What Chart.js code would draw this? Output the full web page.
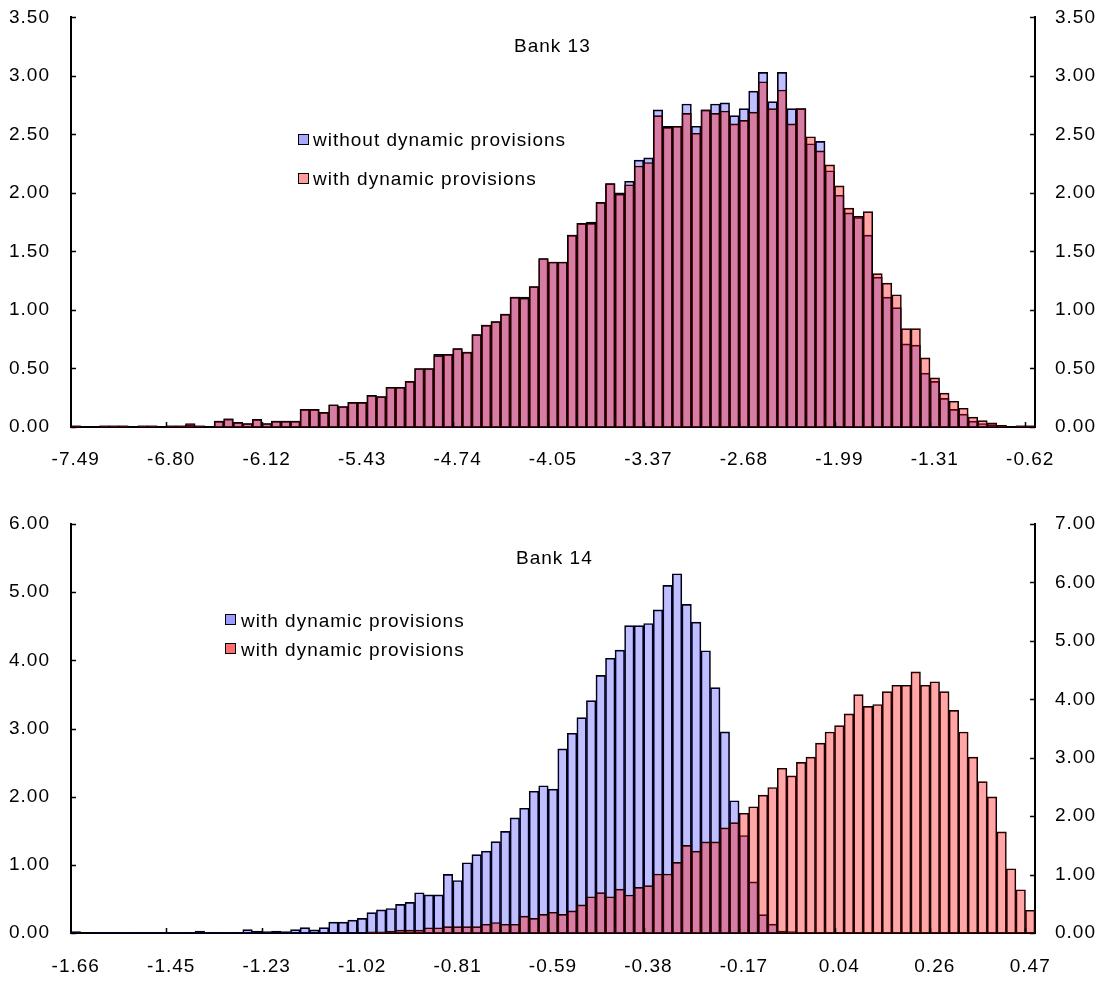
<!DOCTYPE html>
<html>
<head>
<meta charset="utf-8">
<script src="https://cdn.jsdelivr.net/npm/chart.js@4.4.1/dist/chart.umd.min.js"></script>
<style>
  html, body { margin: 0; padding: 0; background: #fff; }
  #wrap { position: relative; width: 1105px; height: 982px; overflow: hidden; font-family: "Liberation Sans", Arial, sans-serif; color: #000; }
  canvas { position: absolute; left: 0; }
  .txt { position: absolute; white-space: nowrap; line-height: 1; letter-spacing: 1px; }
  .sw { position: absolute; width: 9px; height: 9px; border: 1px solid #000; }
</style>
</head>
<body>
<div id="wrap">
  <canvas id="c13" width="1105" height="506" style="top:-15px"></canvas>
  <canvas id="c14" width="1105" height="491" style="top:491px"></canvas>

  <div class="txt" style="left:514px; top:36px; font-size:19px;">Bank 13</div>
  <div class="sw" style="left:298px; top:134px; background:#a8a8ff;"></div>
  <div class="txt" style="left:313px; top:130px; font-size:19px;">without dynamic provisions</div>
  <div class="sw" style="left:298px; top:173px; background:#ff9c9c;"></div>
  <div class="txt" style="left:313px; top:169px; font-size:19px;">with dynamic provisions</div>

  <div class="txt" style="left:516px; top:548px; font-size:19px;">Bank 14</div>
  <div class="sw" style="left:225px; top:614px; background:#9c9cff;"></div>
  <div class="txt" style="left:241px; top:611px; font-size:19px;">with dynamic provisions</div>
  <div class="sw" style="left:225px; top:643px; background:#ff6e6e;"></div>
  <div class="txt" style="left:241px; top:640px; font-size:19px;">with dynamic provisions</div>
</div>
<script>
// ---- Bank 13 ----
const bank13TickLabels = ['-7.49','-6.80','-6.12','-5.43','-4.74','-4.05','-3.37','-2.68','-1.99','-1.31','-0.62'];
const bank13Without = [
  0.01,0,0,0.01,0.01,0.01,0,0.01,0.01,0,
  0.01,0.01,0.02,0.01,0,0.05,0.07,0.04,0.03,0.065,
  0.03,0.05,0.05,0.05,0.15,0.15,0.125,0.19,0.175,0.21,
  0.21,0.27,0.26,0.34,0.34,0.39,0.50,0.50,0.62,0.62,
  0.67,0.64,0.79,0.87,0.90,0.965,1.11,1.11,1.20,1.44,
  1.41,1.41,1.64,1.74,1.75,1.92,2.08,2.00,2.10,2.28,
  2.30,2.71,2.57,2.57,2.76,2.57,2.71,2.76,2.77,2.66,
  2.72,2.87,3.03,2.78,3.03,2.72,2.72,2.42,2.44,2.19,
  1.98,1.83,1.79,1.64,1.28,1.11,1.02,0.71,0.70,0.46,
  0.39,0.245,0.15,0.11,0.05,0.03,0.02,0.015,0,0.01,
  0.01
];
const bank13With = [
  0.01,0,0,0.01,0.01,0.01,0,0.01,0.01,0,
  0.01,0.01,0.03,0.01,0,0.05,0.07,0.04,0.03,0.065,
  0.03,0.05,0.05,0.05,0.15,0.15,0.125,0.19,0.175,0.21,
  0.21,0.27,0.26,0.34,0.34,0.39,0.50,0.50,0.61,0.62,
  0.67,0.64,0.79,0.87,0.90,0.965,1.11,1.10,1.20,1.44,
  1.41,1.41,1.64,1.74,1.74,1.92,2.08,1.99,2.07,2.23,
  2.26,2.66,2.56,2.57,2.68,2.51,2.71,2.68,2.70,2.59,
  2.62,2.69,2.95,2.72,2.88,2.59,2.72,2.48,2.36,2.24,
  2.06,1.87,1.80,1.84,1.31,1.23,1.13,0.84,0.84,0.59,
  0.42,0.29,0.22,0.16,0.085,0.055,0.035,0.015,0,0.01,
  0.01
];

// ---- Bank 14 ----
const bank14TickLabels = ['-1.66','-1.45','-1.23','-1.02','-0.81','-0.59','-0.38','-0.17','0.04','0.26','0.47'];
const bank14Blue = [
  0.02,0,0.01,0.01,0.01,0.01,0.01,0.01,0.01,0.01,
  0.01,0.01,0.01,0.03,0.01,0.01,0.01,0.01,0.05,0.03,
  0.02,0.03,0.02,0.05,0.08,0.045,0.08,0.16,0.16,0.19,
  0.215,0.30,0.34,0.36,0.42,0.45,0.59,0.56,0.56,0.86,
  0.77,1.03,1.15,1.20,1.34,1.49,1.69,1.83,2.08,2.16,
  2.11,2.70,2.93,3.16,3.41,3.78,4.03,4.15,4.51,4.51,
  4.54,4.74,5.10,5.27,4.82,4.56,4.14,3.60,2.95,1.94,
  1.43,0.75,0.27,0.13,0.03,0.02,0,0,0,0,
  0,0,0,0,0,0,0,0,0,0,
  0,0,0,0,0,0,0,0,0,0,
  0
];
const bank14Red = [
  0,0,0,0,0,0,0,0,0,0,
  0,0,0,0,0,0,0,0,0,0,
  0,0,0,0,0,0,0,0,0,0,
  0,0.02,0.02,0.03,0.05,0.05,0.05,0.09,0.09,0.11,
  0.11,0.11,0.11,0.15,0.18,0.15,0.15,0.29,0.25,0.32,
  0.355,0.32,0.38,0.48,0.62,0.69,0.62,0.75,0.65,0.78,
  0.81,1.01,1.01,1.21,1.50,1.40,1.56,1.56,1.80,1.89,
  2.05,2.16,2.36,2.49,2.82,2.69,2.92,3.01,3.25,3.44,
  3.55,3.75,4.08,3.88,3.91,4.13,4.24,4.24,4.47,4.24,
  4.30,4.13,3.81,3.44,3.01,2.59,2.33,1.73,1.10,0.74,
  0.39
];

const BLUE = 'rgba(0,0,255,0.25)';
const RED = 'rgba(255,0,0,0.35)';

Chart.defaults.font.family = '"Liberation Sans", Arial, sans-serif';
Chart.defaults.font.size = 19;
Chart.defaults.color = '#000';

function categoryLabels(n, tickLabels) {
  const out = [];
  for (let i = 0; i < n; i++) out.push(i % 10 === 0 ? tickLabels[i / 10] : '');
  return out;
}

const innerTicks = {
  id: 'innerTicks',
  beforeDraw(chart) { try { chart.ctx.letterSpacing = '1px'; } catch (e) {} },
  afterDraw(chart) {
    const ctx = chart.ctx, a = chart.chartArea;
    ctx.save();
    ctx.strokeStyle = '#000';
    ctx.lineWidth = 1.5;
    ctx.beginPath();
    Object.values(chart.scales).forEach(s => {
      if (s.axis === 'y') {
        s.ticks.forEach(t => {
          const y = Math.round(s.getPixelForValue(t.value)) + 0.5;
          if (s.position === 'left') { ctx.moveTo(a.left, y); ctx.lineTo(a.left + 5, y); }
          else { ctx.moveTo(a.right - 5, y); ctx.lineTo(a.right, y); }
        });
      } else {
        const slot = s.getPixelForValue(1) - s.getPixelForValue(0);
        for (let k = 10; k <= 100; k += 10) {
          const x = Math.round(s.getPixelForValue(k) - slot / 2) + 0.5;
          ctx.moveTo(x, a.bottom); ctx.lineTo(x, a.bottom - 5);
        }
      }
    });
    ctx.stroke();
    ctx.restore();
  }
};

function yAxis(pos, max, step, width, pad) {
  return {
    type: 'linear', position: pos, min: 0, max: max,
    grid: { display: false, drawTicks: false },
    border: { display: true, color: '#000', width: 2 },
    ticks: { stepSize: step, padding: pad, callback: v => Number(v).toFixed(2), font: { size: 19 } },
    afterFit: s => { s.width = width; }
  };
}

function xAxis(labelsHeight, pad) {
  return {
    type: 'category', offset: true,
    grid: { display: false, drawTicks: false },
    border: { display: true, color: '#000', width: 2 },
    ticks: { autoSkip: false, maxRotation: 0, minRotation: 0, padding: pad, font: { size: 19 } },
    afterFit: s => { s.height = labelsHeight; }
  };
}

function barSet(label, data, color, axis, order) {
  return {
    label: label, data: data, yAxisID: axis, order: order, grouped: false,
    backgroundColor: color, borderColor: '#000', borderWidth: 1,
    barPercentage: 1.0, categoryPercentage: 1.0
  };
}

new Chart(document.getElementById('c13'), {
  type: 'bar',
  data: {
    labels: categoryLabels(bank13Without.length, bank13TickLabels),
    datasets: [
      barSet('without dynamic provisions', bank13Without, BLUE, 'y', 2),
      barSet('with dynamic provisions', bank13With, RED, 'y', 1)
    ]
  },
  options: {
    responsive: false, animation: false,
    layout: { padding: { top: 31, left: 0, right: 0, bottom: 0 } },
    plugins: { legend: { display: false }, tooltip: { enabled: false } },
    scales: {
      x: xAxis(64, 21),
      y: yAxis('left', 3.5, 0.5, 71, 21),
      y2: Object.assign(yAxis('right', 3.5, 0.5, 70, 20), { display: true })
    }
  },
  plugins: [innerTicks]
});

new Chart(document.getElementById('c14'), {
  type: 'bar',
  data: {
    labels: categoryLabels(bank14Blue.length, bank14TickLabels),
    datasets: [
      barSet('with dynamic provisions', bank14Blue, BLUE, 'y', 2),
      barSet('with dynamic provisions', bank14Red, RED, 'y2', 1)
    ]
  },
  options: {
    responsive: false, animation: false,
    layout: { padding: { top: 33, left: 0, right: 0, bottom: 0 } },
    plugins: { legend: { display: false }, tooltip: { enabled: false } },
    scales: {
      x: xAxis(49, 22),
      y: yAxis('left', 6, 1, 71, 21),
      y2: yAxis('right', 7, 1, 70, 20)
    }
  },
  plugins: [innerTicks]
});
</script>
</body>
</html>
